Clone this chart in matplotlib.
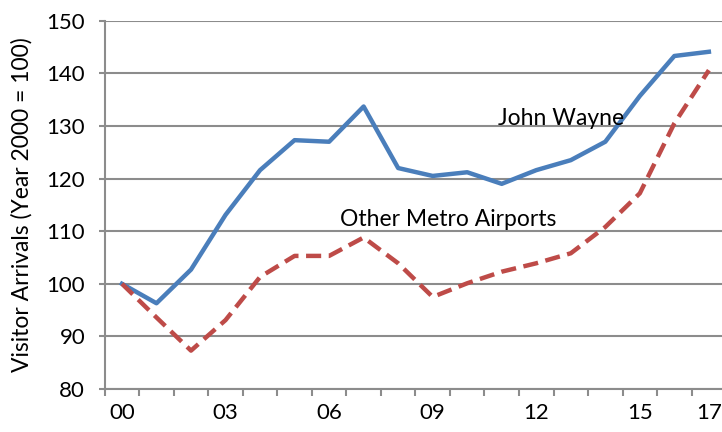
import numpy as np
import matplotlib.pyplot as plt

plt.rcParams['font.family'] = ['Lato', 'DejaVu Sans']

# Datos (indice, año 2000 = 100)
years = ['00', '01', '02', '03', '04', '05', '06', '07', '08',
         '09', '10', '11', '12', '13', '14', '15', '16', '17']
john_wayne = [100, 96.3, 102.7, 113.1, 121.6, 127.3, 127.0, 133.7, 122.0,
              120.5, 121.2, 119.0, 121.6, 123.5, 127.0, 135.7, 143.3, 144.1]
other_metro = [100, 93.6, 87.3, 93.1, 101.3, 105.3, 105.3, 108.8, 103.9,
               97.5, 100.1, 102.3, 103.9, 105.8, 110.8, 117.2, 130.5, 140.6]
label_years = ['00', '03', '06', '09', '12', '15', '17']

fig = plt.figure(figsize=(7.22, 4.32), dpi=100)
ax = fig.add_axes([0.145, 0.0995, 0.855, 0.8525])

x = np.arange(len(years))
ax.plot(x, john_wayne, color='#4a7ebb', lw=3.2, zorder=3)
ax.plot(x, other_metro, color='#be4b48', lw=3.2, dashes=(3.4, 1.7), zorder=3)

ax.text(10.88, 131.4, 'John Wayne', fontsize=16.5, ha='left', va='center')
ax.text(6.33, 112.3, 'Other Metro Airports', fontsize=16.5, ha='left', va='center')

ax.set_ylim(80, 150)
ax.set_yticks(range(80, 151, 10))
ax.set_xlim(-0.5, 17.38)

# ticks en los bordes de categoria, etiquetas en el centro
ax.set_xticks(np.arange(-0.5, 17.5, 1))
ax.set_xticklabels([])
ax.set_xticks([years.index(y) for y in label_years], minor=True)
ax.set_xticklabels(label_years, minor=True)
ax.tick_params(axis='x', which='major', length=5, width=1.5, color='#8c8c8c', direction='out')
ax.tick_params(axis='x', which='minor', length=0, labelsize=16, pad=10)
ax.tick_params(axis='y', length=4, width=1.5, color='#8c8c8c', labelsize=16, pad=10)

ax.grid(axis='y', color='#8c8c8c', lw=1.5)
ax.set_axisbelow(True)
for s in ['top', 'right']:
    ax.spines[s].set_visible(False)
for s in ['left', 'bottom']:
    ax.spines[s].set_color('#8c8c8c')
    ax.spines[s].set_linewidth(1.5)

ax.set_ylabel('Visitor Arrivals (Year 2000 = 100)', fontsize=16.5, va='center')
ax.yaxis.set_label_coords(-0.134, 0.5)

plt.savefig('out.png', dpi=100)
